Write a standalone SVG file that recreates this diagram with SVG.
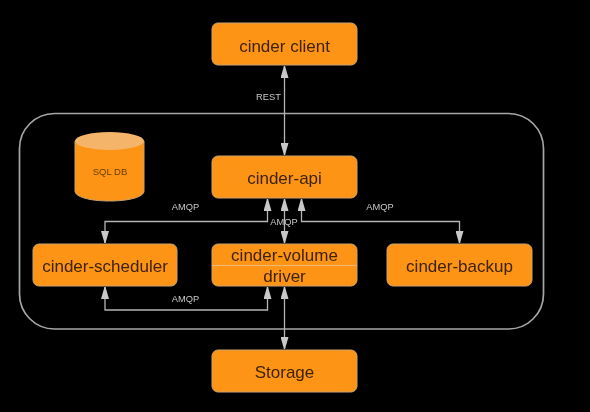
<svg xmlns="http://www.w3.org/2000/svg" width="590" height="412" viewBox="0 0 590 412">
<style>
.box{fill:#fd9412;stroke:#c9a373;stroke-width:1}
.t{font-family:"Liberation Sans",Arial,sans-serif;font-size:17px;fill:#3d2208;text-anchor:middle}
.l{font-family:"Liberation Sans",Arial,sans-serif;font-size:9.300px;fill:#c8c8c8;text-anchor:middle}
.c{fill:none;stroke:#b5b5b5;stroke-width:1.300}
</style>
<defs>
<marker id="a" viewBox="0 0 12 8" refX="12" refY="4" orient="auto-start-reverse" markerUnits="userSpaceOnUse" markerWidth="12" markerHeight="8"><path d="M0 0L12 3.500V4.500L0 8Z" fill="#c8c8c8"/></marker>
<filter id="soft" x="0" y="0" width="100%" height="100%" filterUnits="userSpaceOnUse"><feGaussianBlur stdDeviation="0.4"/></filter>
</defs>
<rect width="590" height="412" fill="#000"/>
<g filter="url(#soft)">
<rect id="boundary" x="19.500" y="113.500" width="524" height="215.500" rx="35" fill="none" stroke="#a6a6a6" stroke-width="1.700"/>
<g id="connectors">
<path class="c" d="M284.500 66V155" marker-start="url(#a)" marker-end="url(#a)"/>
<path class="c" d="M284.500 199V243" marker-start="url(#a)" marker-end="url(#a)"/>
<path class="c" d="M267.500 199V221.500H105V243" marker-start="url(#a)" marker-end="url(#a)"/>
<path class="c" d="M301.500 199V221.500H459.500V243" marker-start="url(#a)" marker-end="url(#a)"/>
<path class="c" d="M105 287V310H267.500V287" marker-start="url(#a)" marker-end="url(#a)"/>
<path class="c" d="M284.500 287V349" marker-start="url(#a)" marker-end="url(#a)"/>
</g>
<g id="labels">
<text class="l" x="268.500" y="100">REST</text>
<text class="l" x="185.500" y="210">AMQP</text>
<text class="l" x="284" y="225">AMQP</text>
<text class="l" x="380" y="210">AMQP</text>
<text class="l" x="185.500" y="302">AMQP</text>
</g>
<g id="cinder-client"><rect class="box" x="212" y="23" width="145" height="42" rx="6"/><text class="t" x="284.500" y="51.500">cinder client</text></g>
<g id="cinder-api"><rect class="box" x="212" y="156" width="145" height="42" rx="6"/><text class="t" x="284.500" y="184">cinder-api</text></g>
<g id="cinder-scheduler"><rect class="box" x="33" y="244" width="144" height="42" rx="6"/><text class="t" x="105" y="272">cinder-scheduler</text></g>
<g id="cinder-volume"><rect class="box" x="212" y="244" width="145" height="42" rx="6"/><path d="M212 265.500H357" stroke="#f0b878" stroke-width="1" fill="none"/><text class="t" x="284.500" y="260.500">cinder-volume</text><text class="t" x="284.500" y="282">driver</text></g>
<g id="cinder-backup"><rect class="box" x="387" y="244" width="145" height="42" rx="6"/><text class="t" x="459.500" y="272">cinder-backup</text></g>
<g id="storage"><rect class="box" x="212" y="350" width="145" height="42" rx="6"/><text class="t" x="284.500" y="378">Storage</text></g>
<g id="sql-db">
<path d="M75 141V191C75 197 90 201 109.500 201S144 197 144 191V141Z" fill="#fd9412" stroke="#c9a373"/>
<ellipse cx="109.500" cy="141" rx="34.500" ry="9" fill="#f4b56a"/>
<text x="110" y="174.500" font-family="'Liberation Sans',Arial,sans-serif" font-size="9.500" fill="#6a3d10" text-anchor="middle">SQL DB</text>
</g>
</g>
</svg>
